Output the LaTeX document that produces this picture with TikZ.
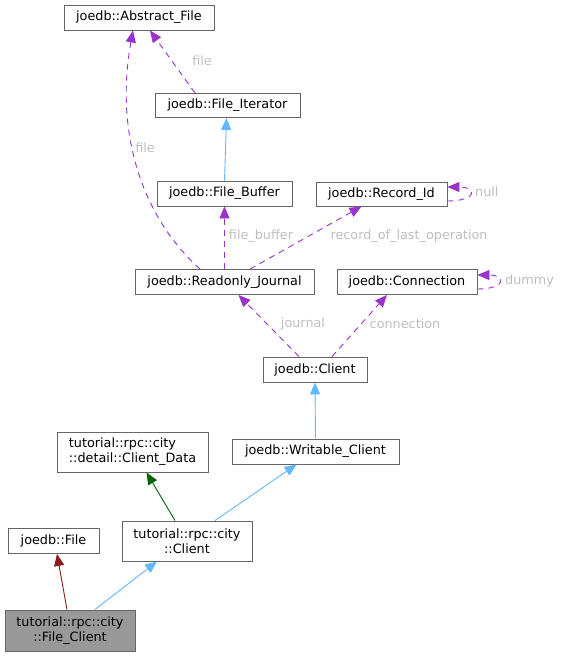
\documentclass[tikz,border=0pt]{standalone}
\usepackage{fontspec}
\setmainfont{DejaVu Sans}
\usetikzlibrary{arrows.meta,calc}
\definecolor{edgepurple}{HTML}{9A32CD}
\definecolor{edgeblue}{HTML}{63B8FF}
\definecolor{edgegreen}{HTML}{006400}
\definecolor{edgered}{HTML}{8B1A1A}
\definecolor{boxline}{HTML}{666666}
\definecolor{labelgray}{HTML}{BEBEBE}
\definecolor{curfill}{HTML}{999999}
\begin{document}
\begin{tikzpicture}[x=1pt,y=-1pt,
  cls/.style={draw=boxline, line width=0.9pt, rectangle, inner sep=0pt,
    font=\fontsize{12.8}{15}\selectfont, align=center},
  lbl/.style={text=labelgray, inner sep=0pt, font=\fontsize{12.8}{15}\selectfont},
  tip/.style={-{Triangle[length=12pt,width=10pt]}},
  uses/.style={tip, draw=edgepurple, line width=0.9pt, dash pattern=on 6pt off 5pt},
  inh/.style={tip, draw=edgeblue, line width=0.9pt},
  priv/.style={tip, draw=edgegreen, line width=0.9pt},
  prot/.style={tip, draw=edgered, line width=0.9pt}
]
\useasboundingbox (0,0) rectangle (561,656);

% nodes
\node[cls, minimum width=150pt, minimum height=25pt] (af) at (139,17.5) {joedb::Abstract\_File};
\node[cls, minimum width=145pt, minimum height=24pt] (fi) at (227.5,105.5) {joedb::File\_Iterator};
\node[cls, minimum width=135pt, minimum height=25pt] (fb) at (224.5,193.5) {joedb::File\_Buffer};
\node[cls, minimum width=131pt, minimum height=24pt] (rid) at (381.5,194) {joedb::Record\_Id};
\node[cls, minimum width=179pt, minimum height=25pt] (rj) at (224.5,282) {joedb::Readonly\_Journal};
\node[cls, minimum width=140pt, minimum height=25pt] (con) at (407,282) {joedb::Connection};
\node[cls, minimum width=104pt, minimum height=25pt] (cl) at (315,369.5) {joedb::Client};
\node[cls, minimum width=151pt, minimum height=40pt, align=left] (cd) at (132.5,452) {tutorial::rpc::city\\::detail::Client\_Data};
\node[cls, minimum width=167pt, minimum height=25pt] (wc) at (315.5,451.5) {joedb::Writable\_Client};
\node[cls, minimum width=91pt, minimum height=25pt] (jf) at (53.5,541) {joedb::File};
\node[cls, minimum width=130pt, minimum height=40pt] (tc) at (187,541) {tutorial::rpc::city\\::Client};
\node[cls, fill=curfill, minimum width=130pt, minimum height=41pt] (fc) at (70,630.5) {tutorial::rpc::city\\::File\_Client};

% edges
\draw[uses] ($(fi.north)+(-32.5,0)$) -- ($(af.south)+(11,0)$);
\node[lbl] (lfile1) at (202,61) {file};

\draw[uses] ($(rj.north)+(-24.5,0)$) .. controls (140,215) and (115,130) .. ($(af.south)+(-6,0)$);
\node[lbl] (lfile2) at (145,148) {file};

\draw[inh] (fb.north) -- ($(fi.south)+(-1,0)$);

\draw[uses] (rj.north) -- (fb.south);
\node[lbl] (lfb) at (261,236) {file\_buffer};

\draw[uses] ($(rj.north)+(25.5,0)$) -- ($(rid.south)+(-20,0)$);
\node[lbl] (lrec) at (409,236) {record\_of\_last\_operation};

\draw[uses] ($(rid.east)+(0,7)$) .. controls +(30,0) and +(30,0) .. ($(rid.east)+(0,-7)$);
\node[lbl, anchor=west] (lnull) at (475,192) {null};

\draw[uses] ($(cl.north)+(-16,0)$) -- ($(rj.south)+(14,0)$);
\node[lbl] (ljour) at (303,324) {journal};

\draw[uses] ($(cl.north)+(17,0)$) -- ($(con.south)+(-20,0)$);
\node[lbl] (lconn) at (405,324) {connection};

\draw[uses] ($(con.east)+(0,7)$) .. controls +(29,0) and +(29,0) .. ($(con.east)+(0,-7)$);
\node[lbl, anchor=west] (ldummy) at (505,281) {dummy};

\draw[inh] (wc.north) -- (cl.south);
\draw[priv] ($(tc.north)+(-12,0)$) -- ($(cd.south)+(14,0)$);
\draw[inh] ($(tc.north)+(28,0)$) -- ($(wc.south)+(-19,0)$);
\draw[prot] ($(fc.north)+(-3,0)$) -- ($(jf.south)+(3.5,0)$);
\draw[inh] ($(fc.north)+(25,0)$) -- ($(tc.south)+(-30,0)$);
\end{tikzpicture}
\end{document}
